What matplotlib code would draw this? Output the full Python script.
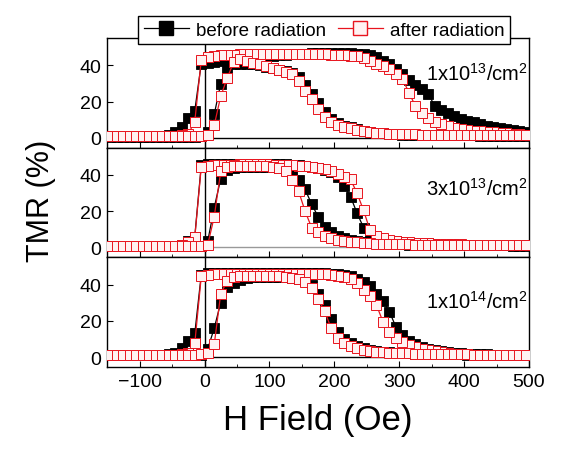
import matplotlib
matplotlib.use('Agg')
import matplotlib.pyplot as plt
from matplotlib.lines import Line2D

plt.rcParams['font.family'] = ['Liberation Sans', 'DejaVu Sans']
plt.rcParams['mathtext.fontset'] = 'custom'
plt.rcParams['mathtext.rm'] = 'Liberation Sans'
plt.rcParams['mathtext.it'] = 'Liberation Sans'

# field grid (Oe), same for every sweep
H = list(range(-145, 500, 10))

# ---- 1x10^13 /cm^2 ----
# sweep down from +500 (listed in increasing H)
after_down_1 = [0.8, 0.8, 0.8, 0.8, 0.8, 0.8, 0.8, 0.8, 0.9, 0.9,
                1.0, 1.3, 2.2, 9, 43, 44.5, 45, 45.5, 46, 46,
                46.2, 46.3, 46.4, 46.5, 46.5, 46.5, 46.5, 46.5, 46.5, 46.5,
                46.5, 46.4, 46.3, 46.2, 46, 45.8, 45.6, 45.3, 45, 44.3,
                42.5, 41, 39.5, 37.8, 35.2, 32.5, 25, 17.5, 13.8, 11,
                9, 7.8, 6.3, 5.5, 4.7, 4.3, 4, 3.8, 3.5, 3.2,
                2.8, 2.5, 2.2, 1.9, 1.6]
before_down_1 = [0.8, 0.8, 0.8, 0.8, 0.8, 0.8, 0.8, 0.9, 1.0, 1.5,
                 3, 6, 11, 15, 41, 41.5, 42, 42.3, 42.7, 43,
                 43.4, 43.8, 44.2, 44.6, 45, 45.3, 45.6, 45.9, 46.1, 46.3,
                 46.5, 46.6, 46.7, 46.8, 46.8, 46.8, 46.7, 46.6, 46.4, 46.1,
                 45.5, 44.5, 42.5, 40.5, 38, 35, 32, 29, 27, 24,
                 17.5, 15.5, 13.5, 12, 10.5, 9.5, 8.5, 7.8, 6.8, 6,
                 5.3, 4.7, 4.2, 3.6, 3.2]
# sweep up from -150
after_up_1 = [0.8, 0.8, 0.8, 0.8, 0.8, 0.8, 0.8, 0.8, 0.8, 0.8,
              0.8, 0.8, 0.9, 0.9, 1.0, 1.5, 7, 23, 33, 42,
              43.5, 42.5, 41.5, 40.5, 39.8, 38.5, 37.2, 36.2, 35.2, 31.5,
              26, 21.5, 16, 11.5, 9, 7.2, 6.2, 5.2, 4.3, 3.7,
              3.2, 2.8, 2.5, 2.3, 2.1, 2.0, 1.9, 1.9, 1.8, 1.8,
              1.8, 1.7, 1.7, 1.7, 1.6, 1.6, 1.6, 1.6, 1.5, 1.5,
              1.5, 1.5, 1.5, 1.4, 1.4]
before_up_1 = [0.6, 0.6, 0.6, 0.6, 0.6, 0.6, 0.6, 0.6, 0.6, 0.6,
               0.6, 0.6, 0.6, 0.7, 0.8, 3, 13, 30, 38, 40.5,
               41, 41, 40.5, 40, 39.3, 38.5, 37.6, 36.7, 35.6, 33.5,
               29, 24, 19, 14, 10.5, 8, 6.8, 5.8, 4.8, 4,
               3.4, 2.9, 2.5, 2.2, 2.0, 1.8, 1.7, 1.6, 1.5, 1.5,
               1.4, 1.4, 1.4, 1.3, 1.3, 1.3, 1.3, 1.2, 1.2, 1.2,
               1.2, 1.2, 1.1, 1.1, 1.1]

# ---- 3x10^13 /cm^2 ----
after_down_2 = [0.8, 0.8, 0.8, 0.8, 0.8, 0.8, 0.8, 0.8, 0.9, 0.9,
                1.0, 1.5, 3, 5.5, 44.5, 45, 45.3, 45.5, 45.6, 45.7,
                45.8, 45.8, 45.8, 45.8, 45.8, 45.7, 45.6, 45.5, 45.3, 45,
                44.8, 44.5, 44, 43.2, 42, 40.5, 39, 37.6, 30, 20.5,
                9.5, 6.2, 5, 4.2, 3.4, 3, 2.8, 2.6, 2.5, 2.3,
                2.1, 2.0, 1.9, 1.8, 1.7, 1.6, 1.5, 1.5, 1.4, 1.4,
                1.3, 1.3, 1.2, 1.2, 1.2]
before_down_2 = [0.8, 0.8, 0.8, 0.8, 0.8, 0.8, 0.8, 0.8, 0.9, 0.9,
                 1.0, 1.5, 3.3, 6, 45.5, 46, 46.2, 46.3, 46.3, 46.3,
                 46.3, 46.3, 46.2, 46.2, 46.1, 46, 45.9, 45.8, 45.6, 45.3,
                 45, 44.5, 43.8, 43, 41.8, 39, 34, 28, 19, 11,
                 7, 5.2, 4.4, 3.8, 3.3, 3, 2.7, 2.5, 2.3, 2.2,
                 2.0, 1.9, 1.8, 1.7, 1.6, 1.5, 1.5, 1.4, 1.4, 1.3,
                 1.3, 1.3, 1.2, 1.2, 1.2]
after_up_2 = [0.8, 0.8, 0.8, 0.8, 0.8, 0.8, 0.8, 0.8, 0.8, 0.8,
              0.8, 0.8, 0.8, 0.8, 0.9, 1.5, 17, 42, 44.5, 44.8,
              45, 45, 45, 45, 44.8, 44.5, 44, 42, 37.5, 31,
              20, 11, 8.5, 6.3, 5, 4.2, 3.6, 3.2, 2.8, 2.5,
              2.3, 2.1, 2.0, 1.9, 1.8, 1.7, 1.7, 1.6, 1.6, 1.5,
              1.5, 1.5, 1.4, 1.4, 1.4, 1.3, 1.3, 1.3, 1.3, 1.2,
              1.2, 1.2, 1.2, 1.2, 1.2]
before_up_2 = [0.6, 0.6, 0.6, 0.6, 0.6, 0.6, 0.6, 0.6, 0.6, 0.6,
               0.6, 0.6, 0.6, 0.7, 0.8, 3.5, 22, 38, 43, 44,
               44.3, 44.5, 44.5, 44.5, 44.4, 44.2, 44, 43, 40, 37,
               32, 24, 17, 11.5, 8.5, 6.5, 5, 4, 3.3, 2.8,
               2.5, 2.2, 2.0, 1.9, 1.8, 1.7, 1.6, 1.5, 1.5, 1.4,
               1.4, 1.3, 1.3, 1.3, 1.2, 1.2, 1.2, 1.2, 1.1, 1.1,
               1.1, 1.1, 1.0, 1.0, 1.0]

# ---- 1x10^14 /cm^2 ----
after_down_3 = [1.2, 1.2, 1.2, 1.2, 1.2, 1.2, 1.2, 1.2, 1.2, 1.2,
                1.3, 1.5, 2.5, 7.5, 44.5, 45.5, 45.8, 46, 46, 46,
                46, 46, 46, 46, 46, 46, 46, 46, 46, 46,
                46, 46, 45.8, 45.6, 45.4, 45, 44.2, 43, 41, 37,
                33.5, 28.6, 19.5, 14, 10.5, 8.3, 6.5, 5.4, 4.5, 3.7,
                3.1, 2.6, 2.2, 1.8, 1.5, 1.4, 1.3, 1.2, 1.2, 1.2,
                1.2, 1.2, 1.2, 1.2, 1.2]
before_down_3 = [1.0, 1.0, 1.0, 1.0, 1.0, 1.0, 1.0, 1.0, 1.2, 1.5,
                 2.5, 5, 9, 13, 45.5, 46.3, 46.5, 46.6, 46.6, 46.6,
                 46.6, 46.6, 46.6, 46.6, 46.6, 46.6, 46.6, 46.6, 46.6, 46.6,
                 46.6, 46.5, 46.4, 46.2, 46, 45.7, 45.2, 44.5, 43.3, 41.5,
                 39, 35, 31, 25, 16.5, 12, 9, 7, 5.6, 4.6,
                 3.8, 3.2, 2.7, 2.3, 2.0, 1.8, 1.6, 1.5, 1.4, 1.3,
                 1.3, 1.2, 1.2, 1.2, 1.2]
after_up_3 = [1.2, 1.2, 1.2, 1.2, 1.2, 1.2, 1.2, 1.2, 1.2, 1.2,
              1.2, 1.2, 1.2, 1.3, 1.5, 2.5, 7, 35, 42, 44,
              44.5, 44.6, 44.6, 44.6, 44.6, 44.5, 44.5, 44.3, 43.8, 43,
              41.5, 38, 32, 25.5, 16, 10.5, 7.8, 6.2, 5, 4,
              3.4, 3, 2.7, 2.5, 2.3, 2.1, 2, 1.9, 1.8, 1.7,
              1.6, 1.6, 1.5, 1.5, 1.4, 1.4, 1.3, 1.3, 1.3, 1.2,
              1.2, 1.2, 1.2, 1.2, 1.2]
before_up_3 = [1.0, 1.0, 1.0, 1.0, 1.0, 1.0, 1.0, 1.0, 1.0, 1.0,
               1.0, 1.0, 1.0, 1.0, 1.2, 4.5, 16, 30, 38.5, 41,
               42.5, 43.5, 44, 44.2, 44.3, 44.3, 44.2, 44, 43.6, 43,
               42, 40, 35, 28.5, 21, 14, 10, 7.5, 6, 4.8,
               4, 3.4, 3, 2.7, 2.4, 2.2, 2, 1.9, 1.8, 1.7,
               1.6, 1.5, 1.5, 1.4, 1.4, 1.3, 1.3, 1.2, 1.2, 1.2,
               1.1, 1.1, 1.1, 1.1, 1.1]

doses = [r'1x10$^{13}$/cm$^{2}$', r'3x10$^{13}$/cm$^{2}$', r'1x10$^{14}$/cm$^{2}$']
before_sets = [(before_down_1, before_up_1), (before_down_2, before_up_2), (before_down_3, before_up_3)]
after_sets = [(after_down_1, after_up_1), (after_down_2, after_up_2), (after_down_3, after_up_3)]
dose_y = [36, 33, 31]
zero_colors = ['black', '#999999', 'black']

red = '#e8141e'
pink = '#fff2f2'

fig, axes = plt.subplots(3, 1, sharex=True, figsize=(5.67, 4.56), dpi=100)
fig.subplots_adjust(left=0.189, right=0.933, top=0.914, bottom=0.193, hspace=0)

# full loop: sweep down then back up
loop_H = H[::-1] + H

for ax, dose, bset, aset, ty, zc in zip(axes, doses, before_sets, after_sets, dose_y, zero_colors):
    ax.axhline(0, color=zc, lw=1, zorder=1)
    ax.axvline(0, color='black', lw=1, zorder=1)
    b = bset[0][::-1] + bset[1]
    a = aset[0][::-1] + aset[1]
    ax.plot(loop_H, b, color='black', lw=0.9, marker='s', ms=7,
            mfc='black', mec='black', mew=0.6, zorder=2)
    ax.plot(loop_H, a, color=red, lw=0.9, marker='s', ms=7,
            mfc=pink, mec=red, mew=0.7, zorder=3)
    ax.text(498, ty, dose, ha='right', va='center', fontsize=14.5, zorder=5)
    ax.set_ylim(-5.5, 55)
    ax.set_yticks([0, 20, 40])
    ax.set_xlim(-150, 500)
    ax.set_xticks([-100, 0, 100, 200, 300, 400, 500])
    ax.set_xticks(range(-150, 501, 50), minor=True)
    ax.tick_params(direction='in', labelsize=14, length=4, pad=4)
    ax.tick_params(which='minor', direction='in', length=2.5)
    for s in ax.spines.values():
        s.set_linewidth(1)

axes[2].set_xlabel('H Field (Oe)', fontsize=25, labelpad=10)
fig.text(0.072, 0.56, 'TMR (%)', rotation=90, fontsize=22, ha='center', va='center')

handles = [Line2D([0], [0], color='black', lw=0.9, marker='s', ms=10, mfc='black', mec='black'),
           Line2D([0], [0], color=red, lw=0.9, marker='s', ms=10, mfc=pink, mec=red)]
leg = fig.legend(handles, ['before radiation', 'after radiation'], loc='center',
                 bbox_to_anchor=(0.572, 0.932), ncol=2, fontsize=13.5, frameon=True,
                 fancybox=False, edgecolor='black', framealpha=1, handlelength=2.4,
                 columnspacing=0.6, handletextpad=0.4, borderpad=0.3, borderaxespad=0)
leg.get_frame().set_linewidth(1)

plt.savefig('out.png', dpi=100)
